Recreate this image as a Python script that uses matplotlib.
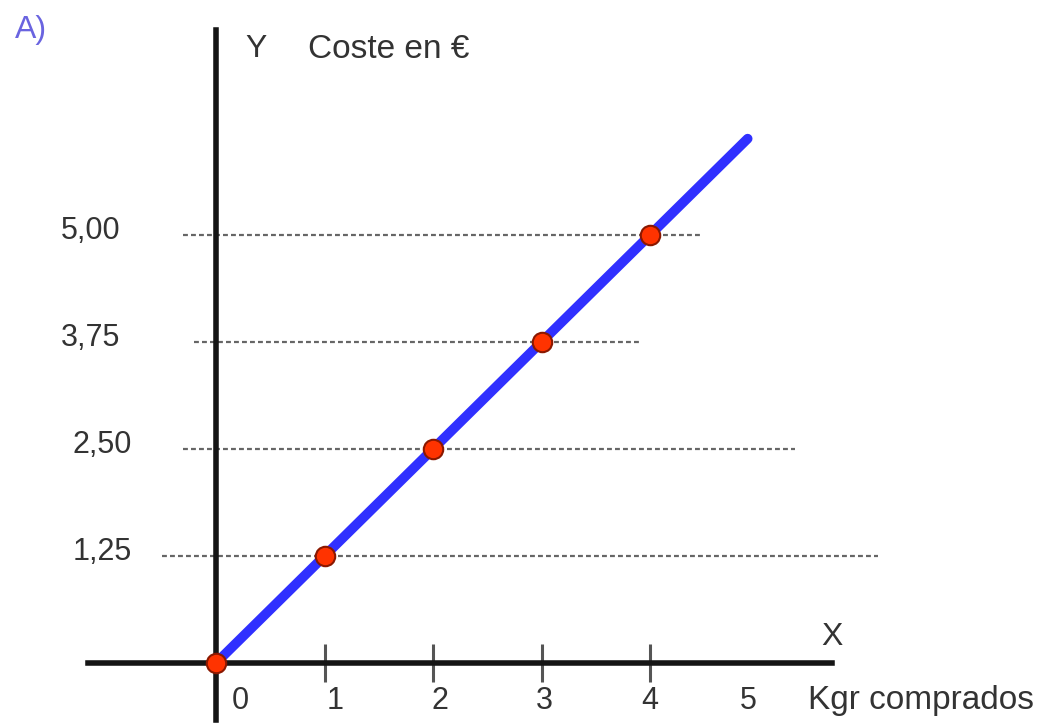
import matplotlib
matplotlib.use("Agg")
import matplotlib.pyplot as plt

# --- Data ---
kg = [0, 1, 2, 3, 4]
cost = [0.0, 1.25, 2.50, 3.75, 5.00]
line_kg = [0, 4.9]
line_cost = [0, 6.125]

# dashed guides: level, start and end (in kg units)
guide_levels = [1.25, 2.50, 3.75, 5.00]
guide_start = [-0.50, -0.30, -0.20, -0.30]
guide_end = [6.10, 5.34, 3.91, 4.46]
guide_labels = ["1,25", "2,50", "3,75", "5,00"]
guide_label_x = [-0.78, -0.78, -0.88, -0.88]

xtick_pos = [1, 2, 3, 4]
xlabel_pos = [0.22, 1.10, 2.06, 3.03, 4.00, 4.91]
xlabels = ["0", "1", "2", "3", "4", "5"]

TXT = "#333333"
plt.rcParams['font.family'] = ['Liberation Sans', 'DejaVu Sans']

fig = plt.figure(figsize=(10.42, 7.24), dpi=100)
ax = fig.add_axes([0, 0, 1, 1])
ax.set_xlim(-1.991, 7.613)
ax.set_ylim(-0.7126, 7.745)

# axes through the origin
for side in ['top', 'right']:
    ax.spines[side].set_visible(False)
ax.spines['left'].set_position(('data', 0))
ax.spines['bottom'].set_position(('data', 0))
ax.spines['left'].set_bounds(-0.67, 7.40)
ax.spines['bottom'].set_bounds(-1.18, 5.68)
for side in ['left', 'bottom']:
    ax.spines[side].set_linewidth(4)
    ax.spines[side].set_color('#151515')
    ax.spines[side].set_zorder(2)
ax.set_yticks([])
ax.set_xticks(xtick_pos)
ax.set_xticklabels([])
ax.tick_params(axis='x', direction='inout', length=27, width=2.2, color='#555555')
ax.patch.set_visible(False)

# dashed guides
for lvl, x0, x1 in zip(guide_levels, guide_start, guide_end):
    ax.plot([x0, x1], [lvl, lvl], color='#666666', lw=1.6, dashes=(2.2, 1.4), zorder=1)

# cost line and points
ax.plot(line_kg, line_cost, color='#3030ff', lw=7, solid_capstyle='round', zorder=3)
ax.plot(kg, cost, 'o', ms=14, color='#ff3300', mec='#8a1800', mew=1.5, zorder=4, clip_on=False)

# labels
for lbl, lvl, lx in zip(guide_labels, guide_levels, guide_label_x):
    ax.text(lx, lvl + 0.05, lbl, ha='right', va='center', fontsize=22, color=TXT)
for lbl, xp in zip(xlabels, xlabel_pos):
    ax.text(xp, -0.44, lbl, ha='center', va='center', fontsize=22, color=TXT)

ax.text(0.27, 7.17, "Y", ha='left', va='center', fontsize=23, color=TXT)
ax.text(0.85, 7.17, "Coste en €", ha='left', va='center', fontsize=24, color=TXT)
ax.text(5.68, 0.30, "X", ha='center', va='center', fontsize=23, color=TXT)
ax.text(5.46, -0.44, "Kgr comprados", ha='left', va='center', fontsize=24, color=TXT)
ax.text(-1.85, 7.39, "A)", ha='left', va='center', fontsize=23, color='#6a64e0')

fig.savefig("out.png", dpi=100)
